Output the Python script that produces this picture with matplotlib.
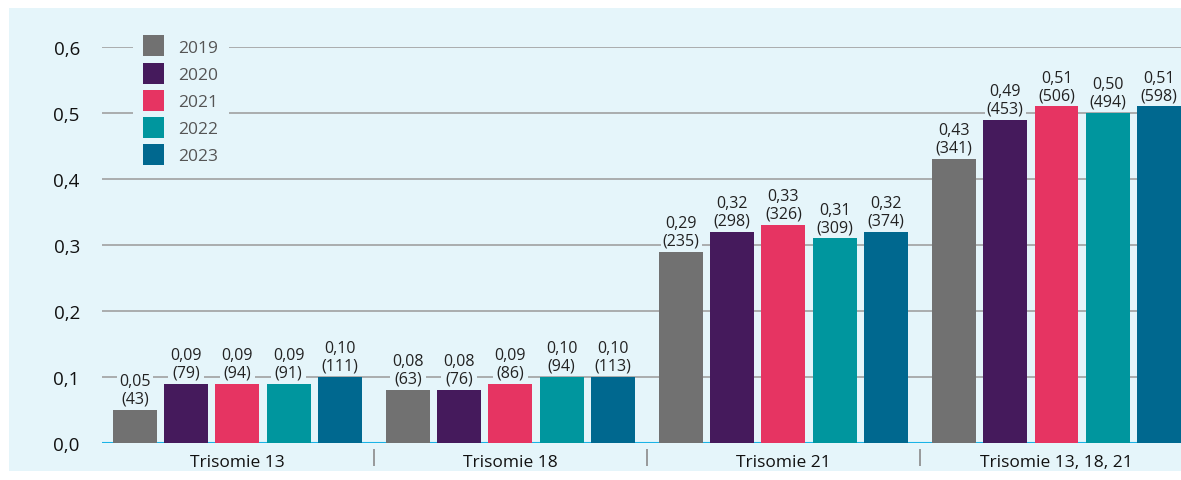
import matplotlib.pyplot as plt
from matplotlib.patches import Patch, Rectangle
from matplotlib.transforms import blended_transform_factory
import numpy as np

plt.rcParams["font.family"] = ["Open Sans", "DejaVu Sans"]

groups = ["Trisomie 13", "Trisomie 18", "Trisomie 21", "Trisomie 13, 18, 21"]
years = ["2019", "2020", "2021", "2022", "2023"]
colors = ["#717171", "#451a5c", "#e63462", "#00969e", "#00688f"]

# rate per year (rows = years, cols = groups)
rates = [
    [0.05, 0.08, 0.29, 0.43],
    [0.09, 0.08, 0.32, 0.49],
    [0.09, 0.09, 0.33, 0.51],
    [0.09, 0.10, 0.31, 0.50],
    [0.10, 0.10, 0.32, 0.51],
]
counts = [
    [43, 63, 235, 341],
    [79, 76, 298, 453],
    [94, 86, 326, 506],
    [91, 94, 309, 494],
    [111, 113, 374, 598],
]
yticks = [0.0, 0.1, 0.2, 0.3, 0.4, 0.5, 0.6]

BG = "#e5f5fa"


def fmt(v, nd):
    return f"{v:.{nd}f}".replace(".", ",")


def main():
    fig = plt.figure(figsize=(11.81, 4.81), dpi=100)
    fig.patch.set_facecolor("white")
    fig.add_artist(Rectangle((9 / 1181, 9 / 481), 1 - 9 / 1181, 463 / 481,
                             transform=fig.transFigure, facecolor=BG,
                             edgecolor="none", zorder=0))

    ax = fig.add_axes([102 / 1181, 37 / 481, 1079 / 1181, 396 / 481])
    ax.set_facecolor("none")

    x = np.arange(len(groups))
    step = 0.1875
    width = 0.161
    for i, yr in enumerate(years):
        pos = x + (i - 2) * step
        ax.bar(pos, rates[i], width=width, color=colors[i], zorder=3, label=yr)
        for p, r, c in zip(pos, rates[i], counts[i]):
            ax.text(p, r + 0.005, f"{fmt(r, 2)}\n({c})", ha="center", va="bottom",
                    fontsize=11.5, color="#222222", linespacing=1.12, zorder=4,
                    bbox=dict(facecolor=BG, edgecolor="none", pad=1.5))

    ax.set_xlim(-0.496, 3.456)
    ax.set_ylim(0, 0.6)
    ax.set_yticks(yticks)
    ax.set_yticklabels([fmt(v, 1) for v in yticks], fontsize=13.5, color="#111111")
    ax.tick_params(axis="y", length=0, pad=16)
    ax.yaxis.grid(True, color="#a0a0a0", linewidth=1.2, zorder=1)
    ax.set_axisbelow(True)
    ax.axhline(0, color="#1ab3e6", linewidth=1.5, zorder=2)

    ax.set_xticks(x)
    ax.set_xticklabels(groups, fontsize=12.5, color="#111111")
    ax.tick_params(axis="x", length=0, pad=8)

    trans = blended_transform_factory(ax.transData, ax.transAxes)
    ax.vlines([0.5, 1.5, 2.5], -0.016, -0.058, transform=trans, color="#8a8a8a",
              linewidth=1.2, clip_on=False)

    for s in ax.spines.values():
        s.set_visible(False)

    handles = [Patch(facecolor=c, edgecolor="none") for c in colors]
    leg = ax.legend(handles, years, loc="upper left",
                    bbox_to_anchor=(133 / 1181, 1 - 26 / 481),
                    bbox_transform=fig.transFigure, fontsize=12.5,
                    handlelength=1.21, handleheight=1.48, handletextpad=0.8,
                    labelspacing=0.36, borderpad=0.6, borderaxespad=0,
                    frameon=True, fancybox=False)
    leg.get_frame().set_facecolor(BG)
    leg.get_frame().set_edgecolor("none")
    leg.get_frame().set_alpha(1)
    for t in leg.get_texts():
        t.set_color("#555555")

    fig.savefig("out.png", dpi=100, facecolor="white")
    plt.close(fig)


if __name__ == "__main__":
    main()
